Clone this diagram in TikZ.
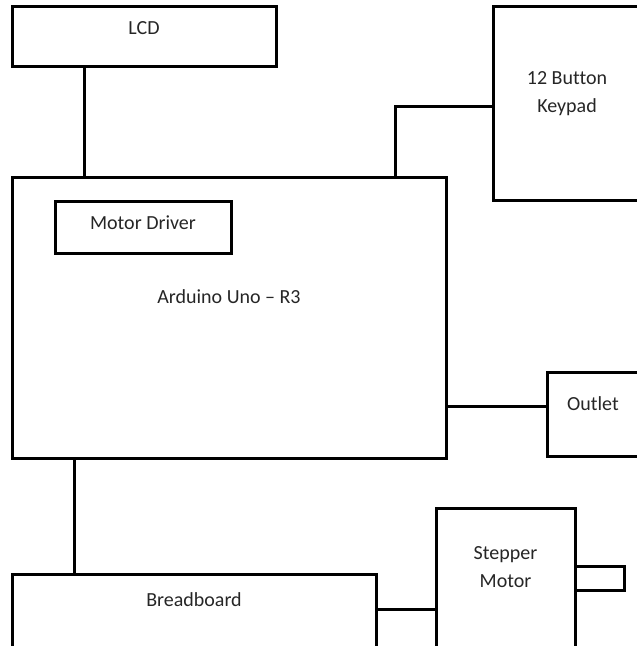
\documentclass[tikz,border=0pt]{standalone}
\usepackage{fontspec}
\setmainfont{Carlito}[Ligatures={TeX,NoCommon}]
\usetikzlibrary{positioning, calc}

\begin{document}
\begin{tikzpicture}[
    x=1pt, y=1pt,
    box/.style={draw, line width=3pt, inner sep=0pt, outer sep=0pt},
    txt/.style={inner sep=0pt, align=center, text=black!85, font=\fontsize{20}{28}\selectfont},
    wire/.style={line width=3pt}
]
    \useasboundingbox (0,0) rectangle (637,646);
    \clip (0,0) rectangle (637,646);

    % blocks
    \node[box, minimum width=264pt, minimum height=60pt] (lcd) at (144,609) {};
    \node[box, minimum width=434pt, minimum height=281pt] (uno) at (229,327.5) {};
    \node[box, minimum width=176pt, minimum height=52pt] (driver) at (143,418) {};
    \node[box, minimum width=148pt, minimum height=194pt] (keypad) at (567,542) {};
    \node[box, minimum width=92pt, minimum height=84pt] (outlet) at (593,231) {};
    \node[box, minimum width=364pt, minimum height=100pt] (breadboard) at (194,21) {};
    \node[box, minimum width=139pt, minimum height=170pt] (stepper) at (505.5,52) {};
    \node[box, minimum width=49pt, minimum height=24pt, anchor=west] (shaft) at ([yshift=15pt]stepper.east) {};

    % texts
    \node[txt] (lcdtext) at ([yshift=-21pt]lcd.north) {LCD};
    \node[txt] (unotext) at ([yshift=-119pt]uno.north) {Arduino Uno – R3};
    \node[txt] (drivertext) at ([yshift=-21pt]driver.north) {Motor Driver};
    \node[txt] (keypadtext) at ([yshift=-87pt]keypad.north) {12 Button\\Keypad};
    \node[txt] (outlettext) at ([yshift=-31pt]outlet.north) {Outlet};
    \node[txt] (breadboardtext) at ([yshift=-25pt]breadboard.north) {Breadboard};
    \node[txt] (steppertext) at ([yshift=-58pt]stepper.north) {Stepper\\Motor};

    % wires
    \draw[wire] ([xshift=-60pt]lcd.south) -- ([xshift=-60pt]lcd.south |- uno.north);
    \draw[wire] ([xshift=166pt]uno.north) |- ([yshift=-3pt]keypad.west);
    \draw[wire] ([yshift=8pt]outlet.west) -- ([yshift=8pt]outlet.west -| uno.east);
    \draw[wire] ([xshift=-155pt]uno.south) -- ([xshift=-155pt]uno.south |- breadboard.north);
    \draw[wire] ([yshift=15pt]breadboard.east) -- ([yshift=15pt]breadboard.east -| stepper.west);
\end{tikzpicture}
\end{document}
